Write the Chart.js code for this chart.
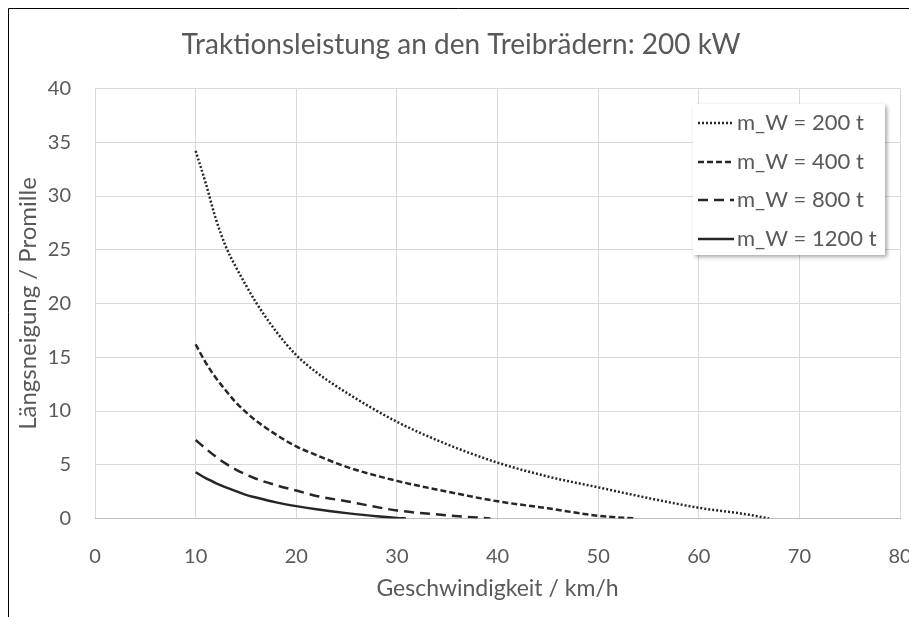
<!DOCTYPE html>
<html>
<head>
<meta charset="utf-8">
<script src="https://cdn.jsdelivr.net/npm/chart.js@4"></script>
<style>
  html, body { margin: 0; padding: 0; background: #fff; }
  #wrap { width: 909px; height: 617px; }
</style>
</head>
<body>
<div id="wrap"><canvas id="chart" width="909" height="617"></canvas></div>
<script>
// speeds (km/h) and grades (per mille)
var speeds200 = [10, 11, 12, 13, 14, 15, 16, 18, 20, 22, 25, 30, 35, 40, 45, 50, 55, 60, 65, 67];
var grade200  = [34.2, 31.2, 27.9, 25.3, 23.4, 21.7, 20.1, 17.4, 15.2, 13.6, 11.7, 9.0, 6.9, 5.2, 3.9, 2.9, 1.9, 1.0, 0.35, 0];

var speeds400 = [10, 11, 12, 13, 14, 15, 16, 18, 20, 22, 25, 30, 35, 40, 45, 50, 53.7];
var grade400  = [16.2, 14.5, 13.1, 11.9, 10.8, 9.9, 9.1, 7.8, 6.7, 5.9, 4.8, 3.5, 2.5, 1.6, 0.95, 0.25, 0];

var speeds800 = [10, 11, 12, 13, 14, 15, 16, 18, 20, 22, 25, 30, 35, 39.3];
var grade800  = [7.3, 6.5, 5.75, 5.1, 4.55, 4.1, 3.7, 3.1, 2.6, 2.1, 1.6, 0.75, 0.3, 0];

var speeds1200 = [10, 11, 12, 13, 14, 15, 16, 18, 20, 22, 25, 28, 30, 30.9];
var grade1200  = [4.3, 3.75, 3.3, 2.9, 2.55, 2.2, 1.95, 1.5, 1.15, 0.85, 0.5, 0.2, 0.05, 0];

var seriesLabels = ['m_W = 200 t', 'm_W = 400 t', 'm_W = 800 t', 'm_W = 1200 t'];
var xTickValues = [0, 10, 20, 30, 40, 50, 60, 70, 80];
var yTickValues = [0, 5, 10, 15, 20, 25, 30, 35, 40];

var textColor = '#595959';
var lineColor = '#262626';
var fontFamily = 'Lato, "Open Sans", sans-serif';

function points(xs, ys) {
    return xs.map(function(x, i) { return { x: x, y: ys[i] }; });
}

function makeDataset(label, xs, ys, dash) {
    return {
        label: label,
        data: points(xs, ys),
        borderColor: lineColor,
        backgroundColor: lineColor,
        borderWidth: 2.5,
        borderDash: dash,
        pointRadius: 0,
        cubicInterpolationMode: 'monotone',
        fill: false
    };
}

// outer chart border (only top and left are visible in the crop)
var framePlugin = {
    id: 'frame',
    beforeDraw: function(chart) {
        var ctx = chart.ctx;
        ctx.save();
        ctx.fillStyle = '#fff';
        ctx.fillRect(0, 0, chart.width, chart.height);
        ctx.strokeStyle = '#000';
        ctx.lineWidth = 1;
        ctx.beginPath();
        ctx.moveTo(8.5, chart.height);
        ctx.lineTo(8.5, 8.5);
        ctx.lineTo(chart.width, 8.5);
        ctx.stroke();
        ctx.restore();
    }
};

// legend box inside the plot, excel style with a soft shadow
var boxLegendPlugin = {
    id: 'boxLegend',
    afterDatasetsDraw: function(chart) {
        var ctx = chart.ctx;
        var x = 693, y = 104, w = 192, h = 151;
        ctx.save();
        ctx.shadowColor = 'rgba(0,0,0,0.35)';
        ctx.shadowBlur = 4;
        ctx.shadowOffsetX = 2;
        ctx.shadowOffsetY = 2;
        ctx.fillStyle = '#fff';
        ctx.fillRect(x, y, w, h);
        ctx.restore();

        ctx.save();
        ctx.font = '22px ' + fontFamily;
        ctx.textBaseline = 'middle';
        ctx.fillStyle = textColor;
        var rowY = [123, 162, 200, 239];
        chart.data.datasets.forEach(function(ds, i) {
            ctx.strokeStyle = ds.borderColor;
            ctx.lineWidth = ds.borderWidth;
            ctx.setLineDash(ds.borderDash || []);
            ctx.beginPath();
            ctx.moveTo(698, rowY[i]);
            ctx.lineTo(734, rowY[i]);
            ctx.stroke();
            ctx.fillText(ds.label, 737, rowY[i]);
        });
        ctx.restore();
    }
};

var chart = new Chart(document.getElementById('chart').getContext('2d'), {
    type: 'line',
    data: {
        datasets: [
            makeDataset(seriesLabels[0], speeds200, grade200, [2, 2]),
            makeDataset(seriesLabels[1], speeds400, grade400, [6, 3]),
            makeDataset(seriesLabels[2], speeds800, grade800, [10, 6]),
            makeDataset(seriesLabels[3], speeds1200, grade1200, [])
        ]
    },
    options: {
        responsive: false,
        animation: false,
        layout: { padding: { left: 22, right: 9, top: 0, bottom: 0 } },
        plugins: {
            legend: { display: false },
            tooltip: { enabled: false },
            title: {
                display: true,
                text: 'Traktionsleistung an den Treibrädern: 200 kW',
                color: textColor,
                font: { family: fontFamily, size: 28, weight: 'normal', lineHeight: 1.2 },
                padding: { top: 28.2, bottom: 26.7 }
            }
        },
        scales: {
            x: {
                type: 'linear',
                min: 0,
                max: 80,
                afterBuildTicks: function(axis) {
                    axis.ticks = xTickValues.map(function(v) { return { value: v }; });
                },
                afterFit: function(axis) {
                    axis.height = 98.5;
                    axis.paddingRight = 0;
                    axis.paddingLeft = 0;
                },
                grid: { color: '#d9d9d9', lineWidth: 1, drawTicks: false },
                border: { color: '#bfbfbf', width: 1 },
                ticks: {
                    color: textColor,
                    padding: 26,
                    maxRotation: 0,
                    font: { family: fontFamily, size: 20 }
                },
                title: {
                    display: true,
                    text: 'Geschwindigkeit / km/h',
                    color: textColor,
                    font: { family: fontFamily, size: 23, lineHeight: 1.2 },
                    padding: { top: 0, bottom: 15 }
                }
            },
            y: {
                type: 'linear',
                min: 0,
                max: 40,
                afterBuildTicks: function(axis) {
                    axis.ticks = yTickValues.map(function(v) { return { value: v }; });
                },
                afterFit: function(axis) { axis.width = 73; },
                grid: { color: '#d9d9d9', lineWidth: 1, drawTicks: false },
                border: { display: false },
                ticks: {
                    color: textColor,
                    padding: 24,
                    font: { family: fontFamily, size: 20 }
                },
                title: {
                    display: true,
                    text: 'Längsneigung / Promille',
                    color: textColor,
                    font: { family: fontFamily, size: 24, lineHeight: 1.2 },
                    padding: { top: -7.9, bottom: 0 }
                }
            }
        }
    },
    plugins: [framePlugin, boxLegendPlugin]
});
</script>
</body>
</html>
